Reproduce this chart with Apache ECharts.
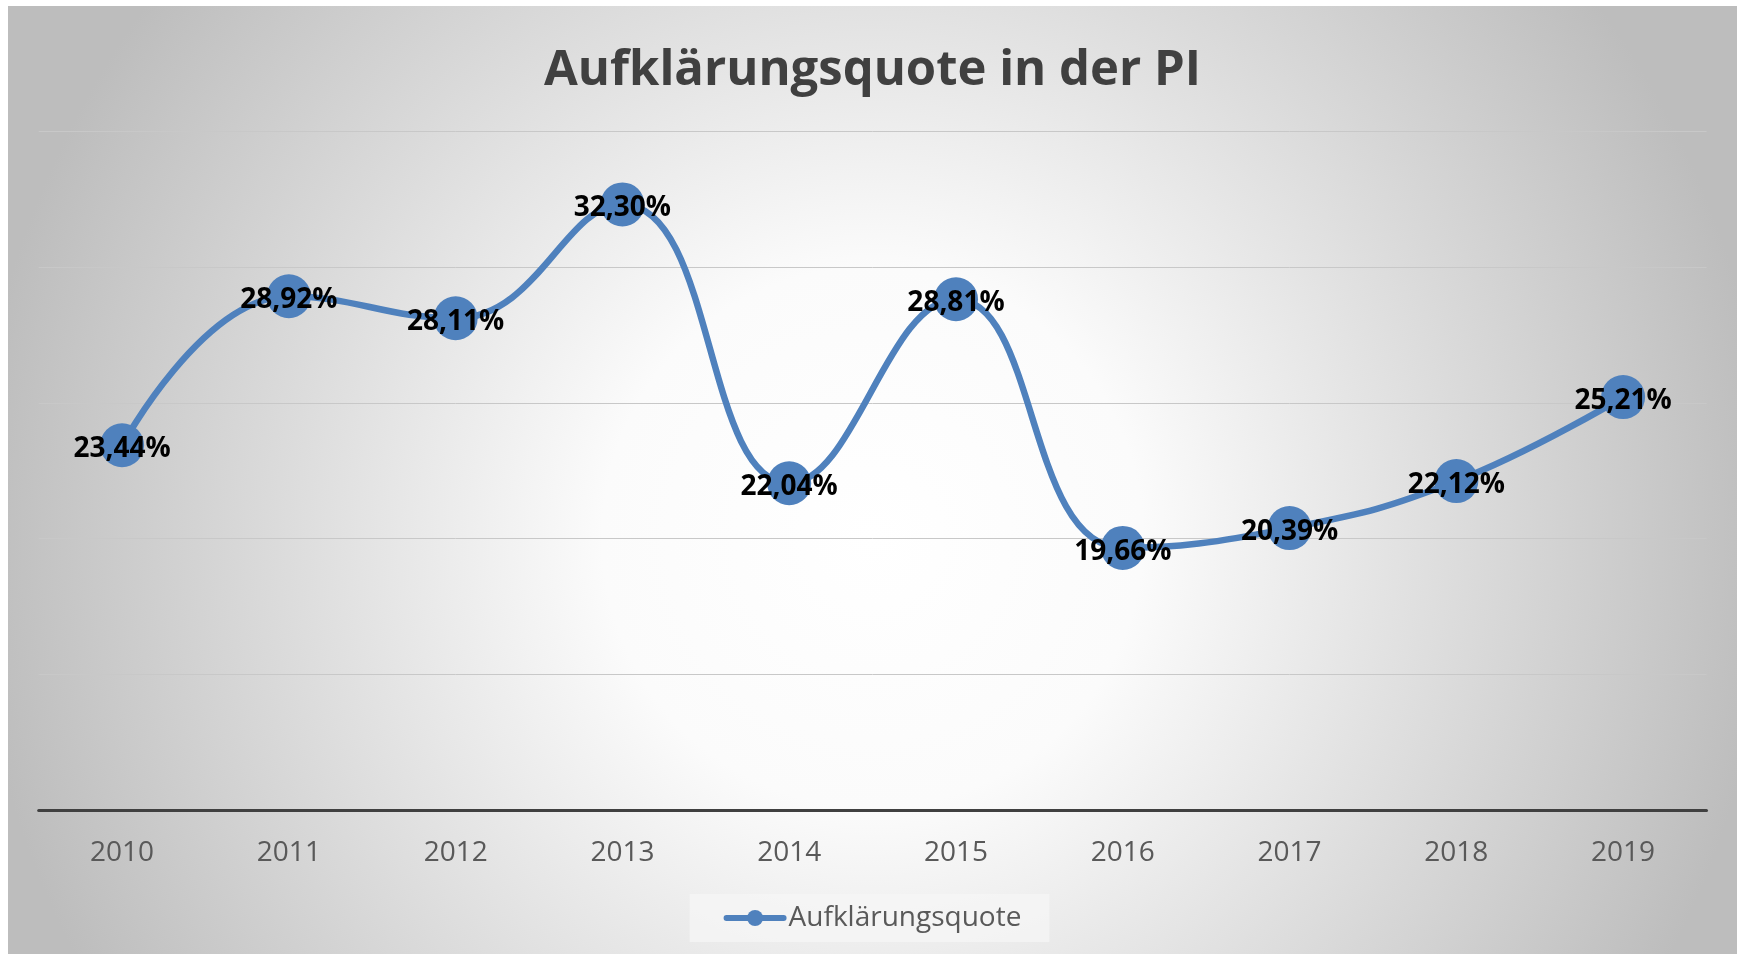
<!DOCTYPE html>
<html>
<head>
<meta charset="utf-8">
<script src="https://cdn.jsdelivr.net/npm/echarts@6/dist/echarts.min.js"></script>
<style>
html,body{margin:0;padding:0;background:#ffffff;width:1741px;height:954px;overflow:hidden;}
#chart{position:absolute;left:8px;top:6px;width:1729px;height:948px;}
</style>
</head>
<body>
<div id="chart"></div>
<script>
const years = ['2010','2011','2012','2013','2014','2015','2016','2017','2018','2019'];
const quote = [23.44, 28.92, 28.11, 32.30, 22.04, 28.81, 19.66, 20.39, 22.12, 25.21];
const seriesName = 'Aufklärungsquote';
const titleText = 'Aufklärungsquote in der PI';

const chart = echarts.init(document.getElementById('chart'));
chart.setOption({
  backgroundColor: {
    type: 'radial', x: 0.5, y: 0.56, r: 0.95,
    colorStops: [
      {offset: 0, color: '#ffffff'},
      {offset: 0.3, color: '#fbfbfb'},
      {offset: 1, color: '#bdbdbd'}
    ]
  },
  animation: false,
  title: {
    text: titleText,
    left: 'center',
    top: 36,
    textStyle: {fontFamily: 'Open Sans', fontWeight: 'bold', fontSize: 49, color: '#404040'}
  },
  legend: {
    data: [seriesName],
    bottom: 12,
    left: 'center',
    itemWidth: 57,
    itemHeight: 20,
    itemGap: 8,
    padding: [10, 28, 10, 34],
    backgroundColor: 'rgba(245,245,245,0.75)',
    lineStyle: {width: 6},
    textStyle: {fontFamily: 'Open Sans', fontSize: 28, color: '#595959'}
  },
  grid: {left: 30.7, right: 30.5, top: 125, bottom: 143.5, containLabel: false},
  xAxis: {
    type: 'category',
    data: years,
    boundaryGap: true,
    axisLine: {lineStyle: {color: '#404040', width: 3}},
    axisTick: {show: false},
    axisLabel: {fontFamily: 'Open Sans', fontSize: 28, color: '#595959', margin: 29}
  },
  yAxis: {
    type: 'value',
    min: 10, max: 35, interval: 5,
    axisLabel: {show: false},
    axisLine: {show: false},
    axisTick: {show: false},
    splitLine: {lineStyle: {color: '#c8c8c8', width: 1}}
  },
  series: [{
    name: seriesName,
    type: 'line',
    data: quote,
    smooth: 0.45,
    symbol: 'circle',
    symbolSize: 44,
    lineStyle: {color: '#4f81bd', width: 6.5, cap: 'round'},
    itemStyle: {color: '#4f81bd'},
    label: {
      show: true,
      position: 'inside',
      offset: [0, 4],
      fontFamily: 'Open Sans',
      fontWeight: 'bold',
      fontSize: 28,
      color: '#000000',
      formatter: p => p.value.toFixed(2).replace('.', ',') + '%'
    }
  }]
});
</script>
</body>
</html>
